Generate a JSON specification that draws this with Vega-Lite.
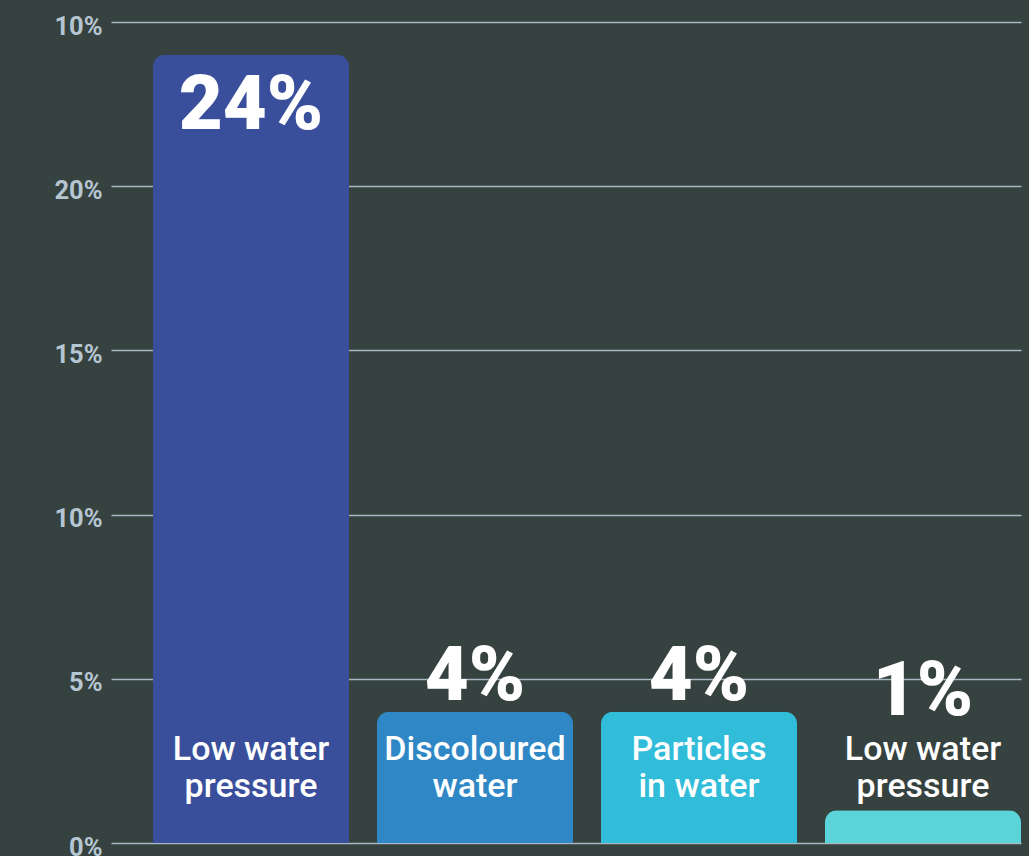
{
  "$schema": "https://vega.github.io/schema/vega-lite/v6.json",
  "autosize": {"type": "none"},
  "padding": {"left": 111, "top": 22, "right": 8, "bottom": 13},
  "width": 910,
  "height": 821,
  "background": "#36423f",
  "config": {"view": {"stroke": null}},
  "data": {"values": [
    {"id": "a", "category": "Low water\npressure", "value": 24, "label": "24%", "color": "#3a4f9c"},
    {"id": "b", "category": "Discoloured\nwater", "value": 4, "label": "4%", "color": "#2f87c5"},
    {"id": "c", "category": "Particles\nin water", "value": 4, "label": "4%", "color": "#31bcd9"},
    {"id": "d", "category": "Low water\npressure", "value": 1, "label": "1%", "color": "#5ad4d8"}
  ]},
  "encoding": {
    "x": {"field": "id", "type": "nominal", "sort": null,
      "scale": {"paddingInner": 0.125, "paddingOuter": 0.09375, "align": 1},
      "axis": null}
  },
  "layer": [
    {
      "mark": {"type": "bar", "cornerRadiusTopLeft": 12, "cornerRadiusTopRight": 12},
      "encoding": {
        "y": {"field": "value", "type": "quantitative",
          "scale": {"domain": [0, 25], "nice": false},
          "axis": {"values": [0, 5, 10, 15, 20, 25], "title": null,
            "labelExpr": "datum.value == 25 ? '10%' : datum.value + '%'",
            "domain": false, "ticks": false, "labelPadding": 9, "labelOffset": 4,
            "labelFont": "Roboto", "labelFontSize": 25.5, "labelFontWeight": "bold",
            "labelColor": "#b6c5d2", "gridColor": "#a8b7c2", "gridWidth": 1.5, "gridOpacity": 1,
            "zindex": 0}},
        "color": {"field": "color", "type": "nominal", "scale": null, "legend": null}
      }
    },
    {
      "transform": [{"filter": "datum.value >= 10"}],
      "mark": {"type": "text", "baseline": "top", "dy": 14, "font": "Roboto", "fontSize": 76, "fontWeight": 900, "color": "white"},
      "encoding": {
        "y": {"field": "value", "type": "quantitative"},
        "text": {"field": "label", "type": "nominal"}
      }
    },
    {
      "transform": [{"filter": "datum.value >= 2 && datum.value < 10"}],
      "mark": {"type": "text", "baseline": "alphabetic", "dy": -12, "font": "Roboto", "fontSize": 76, "fontWeight": 900, "color": "white"},
      "encoding": {
        "y": {"field": "value", "type": "quantitative"},
        "text": {"field": "label", "type": "nominal"}
      }
    },
    {
      "transform": [{"filter": "datum.value < 2"}],
      "mark": {"type": "text", "baseline": "alphabetic", "font": "Roboto", "fontSize": 76, "fontWeight": 900, "color": "white"},
      "encoding": {
        "y": {"datum": 3.9, "type": "quantitative"},
        "text": {"field": "label", "type": "nominal"}
      }
    },
    {
      "mark": {"type": "text", "baseline": "alphabetic", "lineBreak": "\n", "lineHeight": 37, "font": "Roboto", "fontSize": 34, "fontWeight": 500, "color": "white"},
      "encoding": {
        "y": {"datum": 2.53, "type": "quantitative"},
        "text": {"field": "category", "type": "nominal"}
      }
    }
  ]
}
